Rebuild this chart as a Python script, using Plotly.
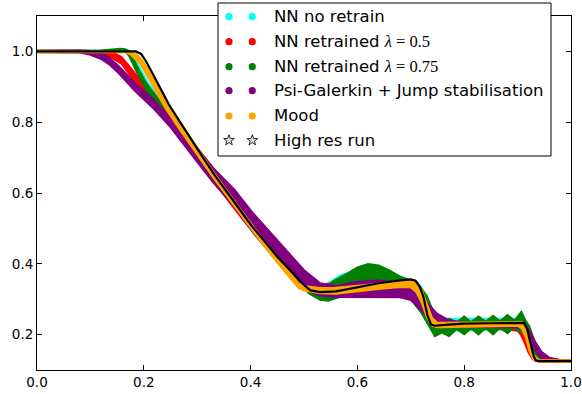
import math
import plotly.graph_objects as go

# ---- density profiles (x in [0, 1]) ------------------------------------
# Most band series are stored as sample position, band centre and half spread.

# NN no retrain
nn_x = [0.00, 0.165, 0.175, 0.183, 0.190, 0.208, 0.233, 0.259, 0.283, 0.308, 0.332, 0.38,
        0.42, 0.46, 0.50, 0.53, 0.55, 0.57, 0.60, 0.63, 0.66, 0.69, 0.71, 0.72, 0.73,
        0.74, 0.76, 0.78, 0.80, 0.83, 0.86, 0.89, 0.905, 0.915, 0.925, 0.935, 0.945,
        0.96, 1.00]
nn_c = [1.0, 1.0, 0.995, 0.976, 0.95, 0.90, 0.85, 0.80, 0.75, 0.70, 0.65, 0.555, 0.478,
        0.408, 0.345, 0.32, 0.33, 0.345, 0.355, 0.36, 0.355, 0.343, 0.33, 0.31, 0.275,
        0.24, 0.225, 0.228, 0.228, 0.228, 0.229, 0.23, 0.229, 0.215, 0.18, 0.145, 0.13,
        0.126, 0.125]
nn_s = [0.003, 0.003, 0.005, 0.009, 0.011, 0.012, 0.012, 0.012, 0.012, 0.012, 0.012,
        0.013, 0.014, 0.015, 0.015, 0.015, 0.02, 0.025, 0.025, 0.025, 0.02, 0.018, 0.02,
        0.025, 0.025, 0.025, 0.02, 0.017, 0.016, 0.016, 0.016, 0.016, 0.016, 0.02, 0.02,
        0.01, 0.005, 0.003, 0.002]

# NN retrained, lambda = 0.5
r05_x = [0.00, 0.10, 0.12, 0.14, 0.158, 0.171, 0.197, 0.229, 0.257, 0.281, 0.306, 0.331,
         0.38, 0.42, 0.46, 0.50, 0.53, 0.56, 0.60, 0.64, 0.68, 0.70, 0.72, 0.73, 0.74,
         0.76, 0.80, 0.85, 0.88, 0.90, 0.905, 0.912, 0.92, 0.928, 0.94, 1.00]
r05_c = [1.0, 1.0, 0.997, 0.99, 0.975, 0.95, 0.90, 0.85, 0.80, 0.75, 0.70, 0.65, 0.555,
         0.482, 0.41, 0.35, 0.325, 0.33, 0.34, 0.345, 0.345, 0.335, 0.30, 0.265, 0.24,
         0.225, 0.225, 0.225, 0.224, 0.222, 0.215, 0.195, 0.165, 0.14, 0.127, 0.125]
r05_s = [0.002, 0.003, 0.005, 0.008, 0.01, 0.012, 0.013, 0.013, 0.014, 0.015, 0.017,
         0.018, 0.02, 0.022, 0.022, 0.02, 0.015, 0.018, 0.02, 0.02, 0.018, 0.018, 0.02,
         0.02, 0.018, 0.01, 0.008, 0.008, 0.01, 0.012, 0.014, 0.015, 0.015, 0.01, 0.004,
         0.003]

# NN retrained, lambda = 0.75 (lower / upper envelope)
r075_x = [0.00, 0.12, 0.14, 0.155, 0.165, 0.172, 0.179, 0.187, 0.205, 0.230, 0.257,
          0.282, 0.307, 0.331, 0.38, 0.42, 0.46, 0.49, 0.51, 0.53, 0.545, 0.555, 0.58,
          0.60, 0.62, 0.64, 0.66, 0.68, 0.70, 0.72, 0.73, 0.745, 0.758, 0.772, 0.786,
          0.80, 0.813, 0.827, 0.84, 0.854, 0.867, 0.881, 0.894, 0.907, 0.915, 0.922,
          0.93, 0.938, 0.948, 0.96, 1.00]
r075_lo = [0.998, 0.998, 1.0, 1.001, 0.999, 0.988, 0.968, 0.94, 0.89, 0.84, 0.789,
           0.738, 0.688, 0.638, 0.542, 0.467, 0.392, 0.343, 0.315, 0.298, 0.295, 0.30,
           0.312, 0.322, 0.33, 0.332, 0.33, 0.322, 0.30, 0.26, 0.235, 0.195, 0.205,
           0.195, 0.215, 0.20, 0.217, 0.20, 0.218, 0.20, 0.219, 0.203, 0.22, 0.205,
           0.205, 0.19, 0.155, 0.132, 0.124, 0.123, 0.123]
r075_hi = [1.002, 1.003, 1.006, 1.008, 1.007, 1.002, 0.986, 0.96, 0.91, 0.86, 0.811,
           0.762, 0.712, 0.662, 0.568, 0.493, 0.418, 0.367, 0.345, 0.33, 0.338, 0.352,
           0.372, 0.39, 0.40, 0.396, 0.382, 0.364, 0.35, 0.33, 0.31, 0.255, 0.235,
           0.245, 0.235, 0.252, 0.236, 0.252, 0.237, 0.254, 0.238, 0.256, 0.24, 0.265,
           0.24, 0.225, 0.19, 0.15, 0.13, 0.127, 0.127]

# Psi-Galerkin + jump stabilisation
psi_x = [0.00, 0.08, 0.10, 0.12, 0.135, 0.152, 0.183, 0.219, 0.250, 0.276, 0.303, 0.330,
         0.37, 0.405, 0.44, 0.468, 0.50, 0.53, 0.56, 0.60, 0.64, 0.68, 0.70, 0.72,
         0.735, 0.75, 0.77, 0.80, 0.85, 0.90, 0.912, 0.922, 0.934, 0.945, 0.96, 0.98,
         1.00]
psi_c = [1.0, 1.0, 0.996, 0.987, 0.973, 0.95, 0.90, 0.85, 0.80, 0.75, 0.70, 0.65,
         0.585, 0.515, 0.455, 0.405, 0.355, 0.328, 0.322, 0.328, 0.33, 0.325, 0.315,
         0.287, 0.262, 0.244, 0.232, 0.227, 0.226, 0.226, 0.222, 0.2, 0.165, 0.142,
         0.13, 0.126, 0.125]
psi_s = [0.003, 0.004, 0.006, 0.009, 0.01, 0.011, 0.012, 0.013, 0.015, 0.017, 0.019,
         0.021, 0.025, 0.028, 0.03, 0.032, 0.028, 0.018, 0.016, 0.022, 0.024, 0.02,
         0.018, 0.02, 0.02, 0.015, 0.01, 0.007, 0.006, 0.006, 0.008, 0.012, 0.013,
         0.01, 0.005, 0.003, 0.003]

# MOOD
mood_x = [0.00, 0.10, 0.165, 0.175, 0.185, 0.195, 0.204, 0.222, 0.241, 0.263, 0.285,
          0.308, 0.331, 0.38, 0.42, 0.46, 0.48, 0.49, 0.50, 0.53, 0.56, 0.60, 0.64,
          0.68, 0.70, 0.71, 0.72, 0.73, 0.74, 0.75, 0.80, 0.85, 0.90, 0.908, 0.915,
          0.922, 0.93, 0.94, 1.00]
mood_c = [1.0, 1.0, 1.0, 0.996, 0.985, 0.97, 0.95, 0.90, 0.85, 0.80, 0.75, 0.70, 0.65,
          0.548, 0.468, 0.392, 0.356, 0.338, 0.331, 0.324, 0.324, 0.33, 0.337, 0.343,
          0.343, 0.335, 0.31, 0.268, 0.236, 0.227, 0.228, 0.229, 0.23, 0.226, 0.205,
          0.168, 0.135, 0.126, 0.125]
mood_s = [0.003, 0.003, 0.003, 0.005, 0.008, 0.01, 0.011, 0.012, 0.012, 0.012, 0.011,
          0.01, 0.009, 0.008, 0.008, 0.008, 0.008, 0.007, 0.007, 0.008, 0.009, 0.009,
          0.009, 0.009, 0.01, 0.015, 0.02, 0.02, 0.012, 0.007, 0.006, 0.006, 0.006,
          0.01, 0.014, 0.015, 0.008, 0.003, 0.003]

# High resolution reference run
hr_x = [0.00, 0.10, 0.185, 0.195, 0.205, 0.212, 0.229, 0.247, 0.268, 0.289, 0.311, 0.333,
        0.37, 0.40, 0.45, 0.50, 0.512, 0.53, 0.56, 0.60, 0.64, 0.68, 0.70, 0.709, 0.717,
        0.724, 0.731, 0.738, 0.745, 0.77, 0.80, 0.85, 0.90, 0.912, 0.918, 0.925, 0.930,
        0.934, 0.94, 1.00]
hr_y = [1.0, 1.0, 1.0, 0.993, 0.97, 0.95, 0.90, 0.85, 0.80, 0.75, 0.70, 0.65, 0.572,
        0.511, 0.42, 0.34, 0.325, 0.32, 0.322, 0.334, 0.345, 0.353, 0.356, 0.352, 0.335,
        0.305, 0.255, 0.228, 0.225, 0.228, 0.231, 0.232, 0.234, 0.233, 0.215, 0.173,
        0.14, 0.127, 0.125, 0.125]

x_ticks = [0.0, 0.2, 0.4, 0.6, 0.8, 1.0]
x_tick_text = ["0.0", "0.2", "0.4", "0.6", "0.8", "1.0"]
y_ticks = [0.2, 0.4, 0.6, 0.8, 1.0]
y_tick_text = ["0.2", "0.4", "0.6", "0.8", "1.0"]

legend_labels = [
    "NN no retrain",
    'NN retrained <span style="font-family:Liberation Serif"><i>λ</i> = 0.5</span>',
    'NN retrained <span style="font-family:Liberation Serif"><i>λ</i> = 0.75</span>',
    "Psi-Galerkin + Jump stabilisation",
    "Mood",
    "High res run",
]

CYAN, RED, GREEN, PURPLE, ORANGE = "#00ffff", "#ff0000", "#008000", "#800080", "#ffa500"
FONT = "DejaVu Sans"


def band(x, lo, hi, color):
    """Filled band between a lower and an upper envelope."""
    return go.Scatter(
        x=list(x) + list(x)[::-1],
        y=list(hi) + list(lo)[::-1],
        mode="lines",
        fill="toself",
        fillcolor=color,
        line=dict(color=color, width=1.6),
        hoverinfo="skip",
        showlegend=False,
    )


def centred(c, s):
    return [a - b for a, b in zip(c, s)], [a + b for a, b in zip(c, s)]


fig = go.Figure()
fig.add_trace(band(nn_x, *centred(nn_c, nn_s), CYAN))
fig.add_trace(band(r05_x, *centred(r05_c, r05_s), RED))
fig.add_trace(band(r075_x, r075_lo, r075_hi, GREEN))
fig.add_trace(band(psi_x, *centred(psi_c, psi_s), PURPLE))
fig.add_trace(band(mood_x, *centred(mood_c, mood_s), ORANGE))
fig.add_trace(go.Scatter(x=hr_x, y=hr_y, mode="lines",
                         line=dict(color="black", width=2.2),
                         hoverinfo="skip", showlegend=False))

# ---- hand-drawn legend box (paper coordinates) --------------------------
L, R, T, B = 37, 11, 16, 24
W, H = 582, 394
pw, ph = W - L - R, H - T - B


def px_x(p):
    return (p - L) / pw


def px_y(p):
    return (H - B - p) / ph


shapes = [dict(type="rect", xref="paper", yref="paper",
               x0=px_x(218), x1=px_x(551), y0=px_y(156), y1=px_y(3),
               line=dict(color="black", width=1), fillcolor="white", layer="above")]
annotations = []
row_y = [16.7, 41.7, 66.7, 90.7, 116.0, 140.3]
marker_cols = [229, 252.3]
dot_colors = [CYAN, RED, GREEN, PURPLE, ORANGE]

# five-pointed star outline in pixels
star_pts = []
for k in range(10):
    r = 5.6 if k % 2 == 0 else 2.3
    a = math.pi / 2 + k * math.pi / 5
    star_pts.append((r * math.cos(a), r * math.sin(a)))
star_path = "M" + " L".join(f"{x:.2f},{y:.2f}" for x, y in star_pts) + " Z"

for i, label in enumerate(legend_labels):
    yy = px_y(row_y[i])
    for mx in marker_cols:
        if i < 5:
            shapes.append(dict(type="circle", xref="paper", yref="paper",
                               xsizemode="pixel", ysizemode="pixel",
                               xanchor=px_x(mx), yanchor=yy,
                               x0=-3.6, x1=3.6, y0=-3.6, y1=3.6,
                               fillcolor=dot_colors[i], line=dict(width=0),
                               layer="above"))
        else:
            shapes.append(dict(type="path", xref="paper", yref="paper",
                               xsizemode="pixel", ysizemode="pixel",
                               xanchor=px_x(mx), yanchor=yy, path=star_path,
                               fillcolor="#d9d9d9", line=dict(color="black", width=0.8),
                               layer="above"))
    annotations.append(dict(xref="paper", yref="paper", x=px_x(271.5), y=yy,
                            xanchor="left", yanchor="middle", showarrow=False,
                            text=label, font=dict(family=FONT, size=16.5, color="black")))

axis_common = dict(showgrid=False, zeroline=False, showline=True, linecolor="black",
                   linewidth=1, mirror="allticks", ticks="inside", ticklen=5,
                   tickwidth=1, tickcolor="black", automargin=False,
                   tickfont=dict(family=FONT, size=13.5, color="black"))

fig.update_layout(
    width=W, height=H,
    margin=dict(l=L, r=R, t=T, b=B, pad=0),
    paper_bgcolor="white", plot_bgcolor="white",
    showlegend=False,
    xaxis=dict(range=[0, 1], tickvals=x_ticks, ticktext=x_tick_text, **axis_common),
    yaxis=dict(range=[0.1, 1.1], tickvals=y_ticks, ticktext=y_tick_text, **axis_common),
    shapes=shapes,
    annotations=annotations,
)

fig.write_html("out.html")
